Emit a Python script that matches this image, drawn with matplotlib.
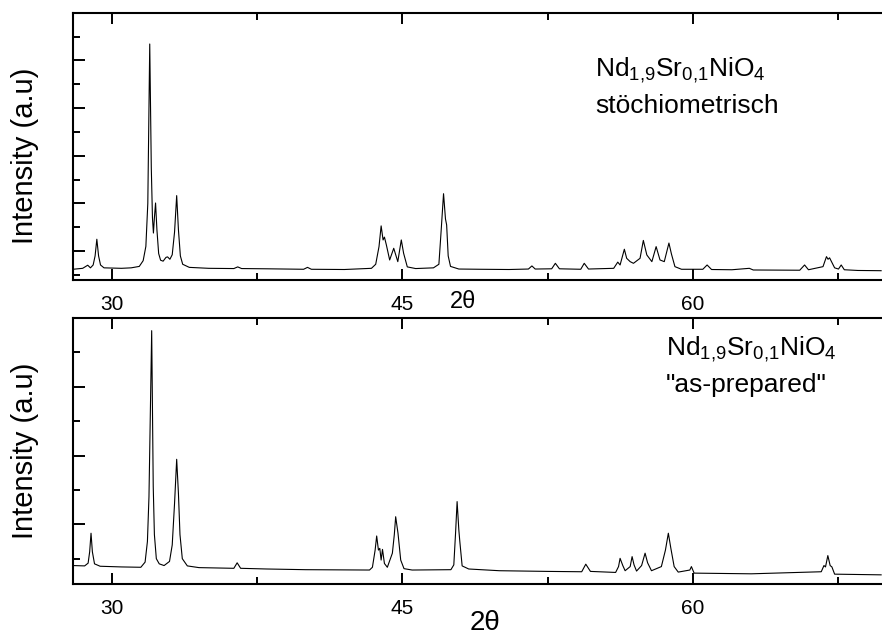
import matplotlib
matplotlib.use("Agg")
import matplotlib.pyplot as plt
from matplotlib.ticker import FixedLocator

plt.rcParams['font.family'] = ['Liberation Sans', 'DejaVu Sans']
plt.rcParams['mathtext.fontset'] = 'custom'
plt.rcParams['mathtext.rm'] = 'Liberation Sans'
plt.rcParams['mathtext.default'] = 'regular'

# Nd1.9Sr0.1NiO4, stoichiometric sample (upper panel)
stoich_2theta = [
    28.0, 28.5, 28.76, 28.9, 29.04, 29.14, 29.23, 29.32, 29.42, 29.6,
    30.5, 31.0, 31.42, 31.62, 31.76, 31.86, 31.96, 32.04, 32.1, 32.15,
    32.2, 32.26, 32.33, 32.42, 32.52, 32.65, 32.8, 32.88, 33.0, 33.12,
    33.24, 33.35, 33.44, 33.54, 33.66, 34.0, 35.0, 36.3, 36.5, 36.7,
    38.0, 39.9, 40.1, 40.3, 42.0, 43.4, 43.62, 43.79, 43.9, 44.0,
    44.07, 44.17, 44.34, 44.55, 44.76, 44.94, 45.06, 45.25, 45.68, 46.6,
    46.88, 47.0, 47.12, 47.22, 47.28, 47.36, 47.48, 47.91, 49.0, 50.5,
    51.5, 51.68, 51.85, 52.7, 52.89, 53.1, 54.2, 54.38, 54.6, 55.9,
    56.11, 56.23, 56.45, 56.57, 56.75, 56.92, 57.26, 57.43, 57.61, 57.87,
    58.09, 58.29, 58.51, 58.75, 58.88, 59.06, 59.4, 60.5, 60.72, 60.95,
    62.0, 62.9, 63.1, 65.5, 65.75, 65.95, 66.7, 66.88, 66.96, 67.04,
    67.3, 67.5, 67.64, 67.8, 68.5, 69.7,
]
stoich_int = [
    0.24, 0.28, 0.41, 0.30, 0.42, 0.80, 1.50, 0.80, 0.42, 0.30,
    0.28, 0.30, 0.36, 0.60, 1.20, 3.00, 9.69, 4.50, 2.40, 1.76,
    2.40, 3.02, 1.90, 0.90, 0.62, 0.58, 0.74, 0.76, 0.66, 0.85,
    1.80, 3.33, 1.90, 0.80, 0.45, 0.32, 0.28, 0.27, 0.34, 0.27,
    0.26, 0.24, 0.32, 0.24, 0.23, 0.28, 0.45, 1.19, 2.06, 1.47,
    1.59, 1.26, 0.63, 1.12, 0.56, 1.47, 0.91, 0.34, 0.27, 0.30,
    0.45, 1.90, 3.41, 2.35, 2.10, 0.80, 0.36, 0.25, 0.24, 0.23,
    0.25, 0.38, 0.25, 0.26, 0.49, 0.26, 0.24, 0.49, 0.25, 0.28,
    0.54, 0.42, 1.08, 0.70, 0.56, 0.49, 0.70, 1.45, 0.84, 0.56,
    1.19, 0.63, 0.56, 1.34, 0.88, 0.35, 0.24, 0.24, 0.42, 0.23,
    0.22, 0.28, 0.21, 0.20, 0.42, 0.22, 0.35, 0.77, 0.66, 0.72,
    0.30, 0.25, 0.42, 0.22, 0.19, 0.18,
]

# same compound, as-prepared (lower panel)
asprep_2theta = [
    28.0, 28.6, 28.78, 28.86, 28.93, 29.0, 29.11, 29.4, 30.5, 31.5,
    31.72, 31.84, 31.92, 32.06, 32.14, 32.2, 32.3, 32.45, 32.7, 32.98,
    33.12, 33.24, 33.35, 33.44, 33.52, 33.64, 33.9, 34.5, 36.3, 36.47,
    36.65, 38.0, 40.0, 43.3, 43.45, 43.59, 43.67, 43.76, 43.83, 43.9,
    43.97, 44.07, 44.22, 44.48, 44.58, 44.65, 44.77, 44.91, 45.08, 45.5,
    47.5, 47.65, 47.74, 47.82, 47.91, 47.96, 48.08, 48.42, 50.0, 52.5,
    54.25, 54.46, 54.7, 56.0, 56.15, 56.23, 56.37, 56.49, 56.75, 56.85,
    56.95, 57.08, 57.34, 57.52, 57.65, 57.85, 58.36, 58.57, 58.72, 58.85,
    59.02, 59.23, 59.83, 59.91, 60.05, 63.0, 66.61, 66.75, 66.83, 66.95,
    67.07, 67.16, 67.3, 69.7,
]
asprep_int = [
    -0.20, -0.21, -0.13, 0.20, 0.74, 0.20, -0.15, -0.22, -0.24, -0.25,
    -0.10, 0.50, 1.80, 6.63, 2.10, 0.70, 0.00, -0.15, -0.20, -0.08,
    0.40, 1.61, 2.89, 1.90, 0.70, 0.00, -0.21, -0.26, -0.28, -0.12,
    -0.28, -0.30, -0.32, -0.33, -0.25, 0.25, 0.66, 0.25, 0.30, -0.04,
    0.27, -0.14, -0.25, 0.16, 0.70, 1.22, 0.74, -0.04, -0.29, -0.33,
    -0.32, -0.18, 0.74, 1.66, 0.83, 0.50, -0.21, -0.30, -0.35, -0.37,
    -0.38, -0.16, -0.37, -0.40, -0.23, 0.01, -0.20, -0.35, -0.23, 0.06,
    -0.18, -0.36, -0.20, 0.16, -0.12, -0.35, -0.23, 0.25, 0.74, 0.30,
    -0.23, -0.39, -0.33, -0.23, -0.42, -0.44, -0.38, -0.20, -0.24, 0.09,
    -0.20, -0.24, -0.45, -0.47,
]

x_major = [30, 45, 60]
x_minor = [37.5, 52.5, 67.5]

W, H = 882, 639
fig = plt.figure(figsize=(W / 100, H / 100), dpi=100)


def panel(top_px, bottom_px, x, y, ylim, yticks_major, yticks_minor):
    ax = fig.add_axes([73 / W, 1 - bottom_px / H, (W - 73) / W + 0.01,
                       (bottom_px - top_px) / H])
    ax.plot(x, y, color='black', lw=0.8)
    ax.set_xlim(28.0, 70.2)
    ax.set_ylim(*ylim)
    ax.spines['right'].set_visible(False)
    for s in ('left', 'top', 'bottom'):
        ax.spines[s].set_linewidth(1.5)
    ax.xaxis.set_major_locator(FixedLocator(x_major))
    ax.xaxis.set_minor_locator(FixedLocator(x_minor))
    ax.yaxis.set_major_locator(FixedLocator(yticks_major))
    ax.yaxis.set_minor_locator(FixedLocator(yticks_minor))
    ax.tick_params(axis='x', which='both', direction='in', top=True,
                   bottom=True, width=1.4, labelsize=15, pad=10.5)
    ax.tick_params(axis='x', which='major', length=8)
    ax.tick_params(axis='x', which='minor', length=5)
    ax.tick_params(axis='y', which='both', direction='in', left=True,
                   right=False, labelleft=False, width=1.4)
    ax.tick_params(axis='y', which='major', length=8.5)
    ax.tick_params(axis='y', which='minor', length=5)
    ax.set_xticklabels([str(v) for v in x_major])
    return ax


ax1 = panel(13, 280, stoich_2theta, stoich_int, (-0.21, 10.99),
            [1, 3, 5, 7, 9], [0, 2, 4, 6, 8, 10])
ax2 = panel(318.3, 584.3, asprep_2theta, asprep_int, (-0.745, 6.99),
            [1, 3, 5], [0, 2, 4, 6])

fig.text(25 / W, 1 - 156 / H, 'Intensity (a.u)', rotation=90, fontsize=21,
         ha='center', va='center')
fig.text(25 / W, 1 - 450.5 / H, 'Intensity (a.u)', rotation=90, fontsize=21,
         ha='center', va='center')

fig.text(463 / W, 1 - 302 / H, '2θ', fontsize=17, ha='center', va='center')
fig.text(485 / W, 1 - 623 / H, '2θ', fontsize=20, ha='center', va='center')

formula = r'Nd$_{1{,}9}$Sr$_{0{,}1}$NiO$_4$'
fig.text(595 / W, 1 - 76.7 / H, formula, fontsize=19, ha='left',
         va='baseline')
fig.text(595 / W, 1 - 113.3 / H, 'stöchiometrisch', fontsize=19, ha='left',
         va='baseline')
fig.text(666 / W, 1 - 355 / H, formula, fontsize=19, ha='left',
         va='baseline')
fig.text(666 / W, 1 - 391.7 / H, '"as-prepared"', fontsize=19, ha='left',
         va='baseline')

fig.savefig('out.png', dpi=100)
